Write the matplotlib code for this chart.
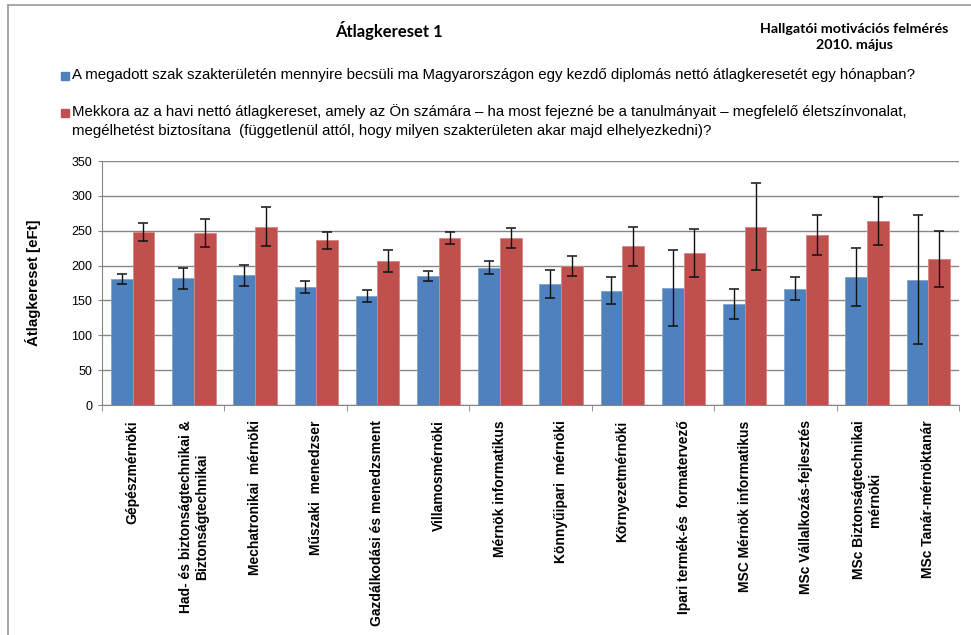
import matplotlib
matplotlib.use("Agg")
import matplotlib.pyplot as plt
from matplotlib.patches import Rectangle
import numpy as np

plt.rcParams["font.family"] = ["Liberation Sans", "DejaVu Sans"]

categories = ["Gépészmérnöki", "Had- és biztonságtechnikai &\nBiztonságtechnikai",
              "Mechatronikai  mérnöki", "Műszaki  menedzser", "Gazdálkodási és menedzsment",
              "Villamosmérnöki", "Mérnök informatikus", "Könnyűipari  mérnöki",
              "Környezetmérnöki", "Ipari termék-és  formatervező", "MSC Mérnök informatikus",
              "MSc Vállalkozás-fejlesztés", "MSc Biztonságtechnikai\nmérnöki", "MSc Tanár-mérnöktanár"]
estimate = [181, 182, 186, 169, 157, 185, 197, 173, 164, 168, 145, 167, 183, 180]
estimate_err = [7, 15, 15.5, 9, 8.6, 7.5, 9, 20, 19.6, 55, 21.8, 16.5, 41.7, 92]
needed = [248, 247, 256, 236, 207, 240, 240, 200, 228, 218, 256, 244, 264, 210]
needed_err = [13, 20, 28, 12, 15.6, 8.4, 14.4, 14.4, 28, 35, 62.6, 28.5, 34.7, 40.3]
yticks = [0, 50, 100, 150, 200, 250, 300, 350]

s1 = "A megadott szak szakterületén mennyire becsüli ma Magyarországon egy kezdő diplomás nettó átlagkeresetét egy hónapban?"
s2 = ("Mekkora az a havi nettó átlagkereset, amely az Ön számára – ha most fejezné be a tanulmányait – megfelelő életszínvonalat,\n"
      "megélhetést biztosítana  (függetlenül attól, hogy milyen szakterületen akar majd elhelyezkedni)?")

W, H = 971, 635
fig = plt.figure(figsize=(W / 100, H / 100), dpi=100)
ax = fig.add_axes([102 / W, 1 - 405 / H, (959 - 102) / W, (405 - 161) / H])

x = np.arange(len(categories))
bw = 0.355
blue, red = "#4F81BD", "#C0504D"
ek = dict(ecolor="#111111", elinewidth=1.0, capsize=3.5, capthick=1.1)
ax.bar(x - bw / 2, estimate, bw, color=blue, edgecolor="#7FA3D0", lw=0.6, zorder=2)
ax.bar(x + bw / 2, needed, bw, color=red, edgecolor="#D58683", lw=0.6, zorder=2)
ax.errorbar(x - bw / 2, estimate, yerr=estimate_err, fmt="none", zorder=3, **ek)
ax.errorbar(x + bw / 2, needed, yerr=needed_err, fmt="none", zorder=3, **ek)

ax.set_xlim(-0.5, len(categories) - 0.5)
ax.set_ylim(0, 350)
ax.set_yticks(yticks)
ax.tick_params(axis="y", labelsize=9, length=3, color="#868686", pad=4)
ax.yaxis.grid(True, color="#868686", lw=1)
ax.set_axisbelow(True)
ax.set_xticks(x)
ax.set_xticklabels(categories, rotation=90, fontsize=10, fontweight="bold", ma="center", va="top")
ax.tick_params(axis="x", length=0, pad=11)
ax.set_xticks(np.arange(-0.5, len(categories), 2), minor=True)
ax.tick_params(axis="x", which="minor", length=4, color="#868686")
for s in ["top", "right"]:
    ax.spines[s].set_visible(False)
for s in ["left", "bottom"]:
    ax.spines[s].set_color("#868686")
ax.set_ylabel("Átlagkereset [eFt]", fontsize=10.8, fontweight="bold", labelpad=22)

fig.text(389 / W, 1 - 30 / H, "Átlagkereset 1", ha="center", va="center", fontsize=12,
         fontweight="bold", family=["Lato", "DejaVu Sans"])
fig.text(854 / W, 1 - 37 / H, "Hallgatói motivációs felmérés\n2010. május", ha="center", va="center",
         fontsize=10.3, fontweight="bold", family=["Lato", "DejaVu Sans"], linespacing=1.4)

fig.patches.append(Rectangle((61 / W, 1 - 80 / H), 8 / W, 8 / H, color=blue, transform=fig.transFigure))
fig.text(72 / W, 1 - 75 / H, s1, ha="left", va="center", fontsize=10.8)
fig.patches.append(Rectangle((61 / W, 1 - 117 / H), 8 / W, 8 / H, color=red, transform=fig.transFigure))
fig.text(72 / W, 1 - 104 / H, s2, ha="left", va="top", fontsize=10.8, linespacing=1.5)

# chart border (top and left visible)
fig.add_artist(plt.Line2D([8 / W, 1], [1 - 5 / H, 1 - 5 / H], color="#999999", lw=1.2))
fig.add_artist(plt.Line2D([8 / W, 8 / W], [0, 1 - 5 / H], color="#999999", lw=1.2))

fig.savefig("out.png", dpi=100)
